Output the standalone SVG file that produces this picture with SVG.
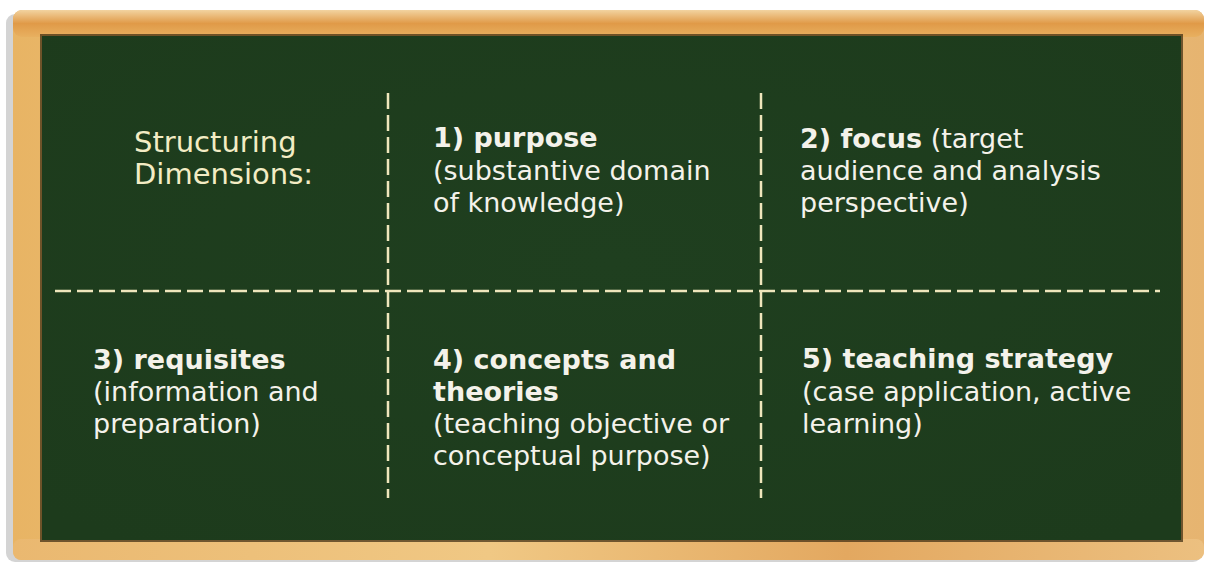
<svg xmlns="http://www.w3.org/2000/svg" width="1206" height="563" viewBox="0 0 1206 563">
  <defs>
    <linearGradient id="frameTop" x1="0" y1="0" x2="0" y2="1">
      <stop offset="0" stop-color="#f2d3a0"/>
      <stop offset="0.5" stop-color="#e09a48"/>
      <stop offset="1" stop-color="#e8b060"/>
    </linearGradient>
    <linearGradient id="frameSide" x1="0" y1="0" x2="1" y2="0">
      <stop offset="0" stop-color="#e8b464"/>
      <stop offset="0.5" stop-color="#f0cc90"/>
      <stop offset="1" stop-color="#e6b470"/>
    </linearGradient>
    <linearGradient id="frameBottom" x1="0" y1="0" x2="1" y2="0">
      <stop offset="0" stop-color="#eab870"/>
      <stop offset="0.4" stop-color="#f0c884"/>
      <stop offset="0.7" stop-color="#e3a860"/>
      <stop offset="1" stop-color="#ecc080"/>
    </linearGradient>
    <radialGradient id="board" cx="0.5" cy="0.45" r="0.7">
      <stop offset="0" stop-color="#1f3f1f"/>
      <stop offset="1" stop-color="#1d3b1c"/>
    </radialGradient>
  </defs>
  <style>
    .txt { font-family: "DejaVu Sans", "Open Sans", sans-serif; font-size: 27px; fill: #f4f2ea; }
    .hd { font-weight: bold; }
    .cream { fill: #f3ecc4; font-size: 29px; }
    .dash { stroke: #efe6bc; stroke-width: 2.5; stroke-dasharray: 16 6; fill: none; }
  </style>
  <rect width="1206" height="563" fill="#ffffff"/>
  <g id="frame">
    <rect x="6" y="14" width="1196" height="548" rx="9" fill="#b8b8b8" opacity="0.6"/>
    <rect x="13" y="10" width="1191" height="550" rx="9" fill="url(#frameSide)"/>
    <rect x="13" y="10" width="1191" height="27" rx="9" fill="url(#frameTop)"/>
    <rect x="13" y="539" width="1191" height="21" rx="8" fill="url(#frameBottom)"/>
    <rect x="40" y="34" width="1143" height="508" fill="#3a2a10" opacity="0.7"/>
    <rect x="42" y="36" width="1139" height="504" fill="url(#board)"/>
  </g>
  <g id="connectors">
    <line class="dash" x1="55" y1="291" x2="1160" y2="291"/>
    <line class="dash" x1="388" y1="93" x2="388" y2="498"/>
    <line class="dash" x1="761" y1="93" x2="761" y2="498"/>
  </g>
  <g id="node-title">
    <text class="txt cream" x="134" y="152">Structuring</text>
    <text class="txt cream" x="134" y="184">Dimensions:</text>
  </g>
  <g id="node-1">
    <text class="txt" x="433" y="147"><tspan class="hd">1) purpose</tspan></text>
    <text class="txt" x="433" y="180">(substantive domain</text>
    <text class="txt" x="433" y="212">of knowledge)</text>
  </g>
  <g id="node-2">
    <text class="txt" x="800" y="148"><tspan class="hd">2) focus</tspan> (target</text>
    <text class="txt" x="800" y="180">audience and analysis</text>
    <text class="txt" x="800" y="212">perspective)</text>
  </g>
  <g id="node-3">
    <text class="txt" x="93" y="369"><tspan class="hd">3) requisites</tspan></text>
    <text class="txt" x="93" y="401">(information and</text>
    <text class="txt" x="93" y="433">preparation)</text>
  </g>
  <g id="node-4">
    <text class="txt" x="433" y="369"><tspan class="hd">4) concepts and</tspan></text>
    <text class="txt" x="433" y="401"><tspan class="hd">theories</tspan></text>
    <text class="txt" x="433" y="433">(teaching objective or</text>
    <text class="txt" x="433" y="465">conceptual purpose)</text>
  </g>
  <g id="node-5">
    <text class="txt" x="802" y="368"><tspan class="hd">5) teaching strategy</tspan></text>
    <text class="txt" x="802" y="401">(case application, active</text>
    <text class="txt" x="802" y="433">learning)</text>
  </g>
</svg>
